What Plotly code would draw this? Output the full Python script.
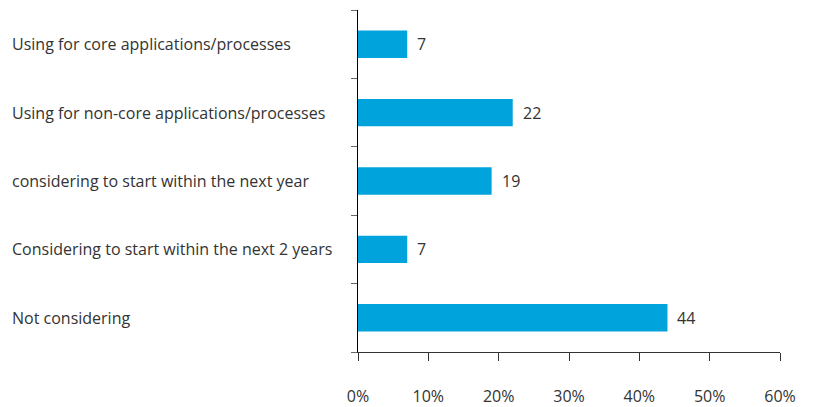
import plotly.graph_objects as go

categories = [
    "Using for core applications/processes",
    "Using for non-core applications/processes",
    "considering to start within the next year",
    "Considering to start within the next 2 years",
    "Not considering",
]
values = [7, 22, 19, 7, 44]
x_ticks = [0, 10, 20, 30, 40, 50, 60]
x_tick_labels = ["0%", "10%", "20%", "30%", "40%", "50%", "60%"]

FONT = "Open Sans"
TXT = "#333333"

fig = go.Figure(go.Bar(
    y=categories,
    x=values,
    orientation="h",
    marker=dict(color="#00A3DC", line=dict(width=0)),
))

L, R, T, B = 358, 39, 10, 55
W, H = 819, 407
pw = W - L - R

annotations = []
for c in categories:
    annotations.append(dict(
        x=-(L - 10) / pw, xref="paper", y=c, yref="y",
        text=c, showarrow=False, xanchor="left", yanchor="middle",
        font=dict(family=FONT, size=16, color=TXT),
    ))
for c, v in zip(categories, values):
    annotations.append(dict(
        x=v, xref="x", y=c, yref="y", text=str(v), showarrow=False,
        xanchor="left", yanchor="middle", xshift=8,
        font=dict(family=FONT, size=16, color=TXT),
    ))

fig.update_layout(
    width=W, height=H,
    margin=dict(l=L, r=R, t=T, b=B, autoexpand=False),
    paper_bgcolor="white", plot_bgcolor="white",
    bargap=0.6,
    showlegend=False,
    annotations=annotations,
    font=dict(family=FONT, color=TXT),
)
fig.update_xaxes(
    range=[0, 60], tickvals=x_ticks, ticktext=x_tick_labels,
    showgrid=False, zeroline=False, automargin=False,
    showline=True, linecolor="#333333", linewidth=1,
    ticks="outside", ticklen=8, tickcolor="#333333",
    tickfont=dict(family=FONT, size=16, color=TXT),
    ticklabelstandoff=22,
)
fig.update_yaxes(
    categoryorder="array", categoryarray=categories[::-1],
    range=[-0.5, 4.5], automargin=False,
    showgrid=False, zeroline=False,
    showline=True, linecolor="#000000", linewidth=1,
    ticks="outside", tickson="boundaries", ticklen=6, tickcolor="#666666",
    showticklabels=False,
)

fig.write_html("out.html")
